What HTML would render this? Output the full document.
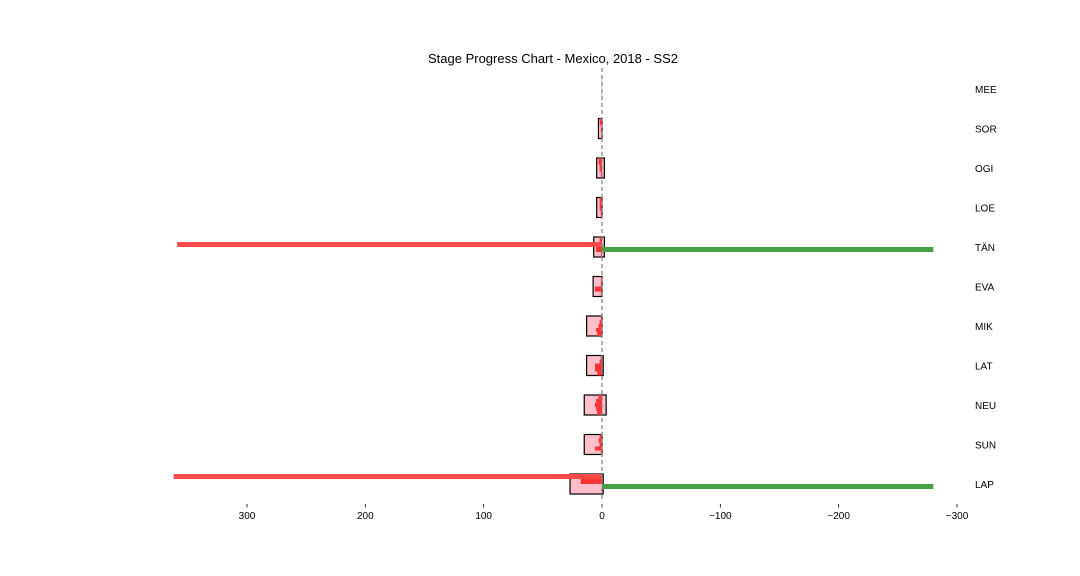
<!DOCTYPE html>
<html><head><meta charset="utf-8"><style>
body{margin:0;background:#fff}
svg{display:block;font-family:"Liberation Sans","DejaVu Sans",sans-serif}
</style></head><body>
<svg id="c" width="1080" height="576">
<text x="553" y="63" text-anchor="middle" font-size="13">Stage Progress Chart - Mexico, 2018 - SS2</text>
</svg>
<script>
const categories=["MEE","SOR","OGI","LOE","TÄN","EVA","MIK","LAT","NEU","SUN","LAP"];
const boxMax=[0.3,3,4.5,4.5,7,7.5,13,13,15,15,27];
const boxMin=[0,0,-2,0,-2,0,0,-1,-3.5,0,-1];
const redSteps=[[0.3],[2,1,0.5],[3,2,1],[2,2,1],[2,5,5,1],[1,1,6,1],[1,2,3,5,4],[1,2,6,6,4],[3,5,6,5,4],[2,3,2,6,1],[18,18,0,0]];
const longRed=[0,0,0,0,359,0,0,0,0,0,362];
const longGreen=[0,0,0,0,-280,0,0,0,0,0,-280];
const redOffset=[0,0,0,0,-5,0,0,0,0,0,-10];
const ticks=[300,200,100,0,-100,-200,-300];
const svg=document.getElementById('c');
const NS='http://www.w3.org/2000/svg';
const x=v=>602-v*355/300;
const yc=i=>89+i*39.5;
function mk(t,a){const e=document.createElementNS(NS,t);for(const k in a)e.setAttribute(k,a[k]);svg.appendChild(e);return e;}
categories.forEach((c,i)=>{
 const y=yc(i);
 if(boxMax[i]-boxMin[i]>0.5){
  const b=mk('rect',{x:x(boxMax[i]),y:y-10,width:x(boxMin[i])-x(boxMax[i]),height:20,fill:'#ffc0cb',stroke:'#000','stroke-width':1.2});
  
  
 }
 const s=redSteps[i],h=20/s.length;
 s.forEach((v,j)=>{
  if(v<=0)return;
  const r=mk('rect',{x:x(v),y:y-10+j*h,width:x(0)-x(v),height:h,fill:'#ff3333'});
  
  
 });
 if(longRed[i]){
  const r=mk('rect',{x:x(longRed[i]),y:y+redOffset[i],width:x(0)-x(longRed[i]),height:5,fill:'#ff4a4a'});
  
  
 }
 if(longGreen[i]){
  const g=mk('rect',{x:x(0),y:y,width:x(longGreen[i])-x(0),height:5,fill:'#46a046'});
  
  
 }
 const t=mk('text',{x:975,y:y+4,'font-size':10});
 t.textContent=c;
 
 
});
const zl=mk('line',{x1:x(0),y1:68,x2:x(0),y2:500,stroke:'#888','stroke-width':1.3,'stroke-dasharray':'4,3'});


ticks.forEach(v=>{
 const l=mk('line',{x1:x(v),y1:504,x2:x(v),y2:507.5,stroke:'#000','stroke-width':0.8});
 
 
 const t=mk('text',{x:x(v),y:519,'font-size':10,'text-anchor':'middle'});
 t.textContent=v<0?'\u2212'+(-v):String(v);
 
 
});
</script>
</body></html>
